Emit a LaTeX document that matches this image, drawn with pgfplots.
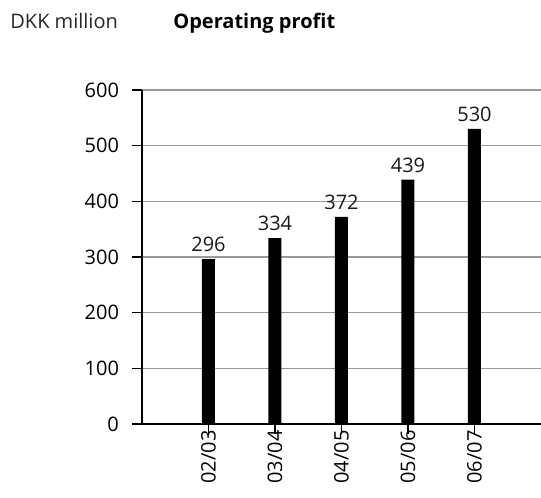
\documentclass[border=0pt]{standalone}
\usepackage{pgfplots}
\pgfplotsset{compat=1.18}
\usepackage{fontspec}
\setmainfont{Open Sans}

\begin{document}
\begin{tikzpicture}
\begin{axis}[
    at={(0pt,0pt)}, anchor=south west,
    scale only axis,
    width=199.5pt, height=167pt,
    font=\fontsize{10}{12}\selectfont,
    ybar, bar width=6.5pt,
    xmin=-1, xmax=5,
    ymin=0, ymax=600,
    enlargelimits=false,
    ytick={0,100,...,600},
    xtick={0,1,2,3,4},
    xticklabels={02/03,03/04,04/05,05/06,06/07},
    x tick label style={yshift=3pt, rotate=90, anchor=east, inner sep=1pt},
    y tick label style={xshift=-3pt},
    axis x line*=bottom, axis y line*=left,
    axis line style={-, line width=0.6pt},
    major tick style={draw=black, line width=0.6pt},
    tick align=outside, major tick length=5pt,
    xmajorgrids=false, ymajorgrids=true,
    major grid style={draw=black!40, line width=0.6pt},
    /pgf/number format/assume math mode=true,
    nodes near coords,
    nodes near coords style={font=\fontsize{10}{12}\selectfont, inner sep=1pt, yshift=2.5pt, text=black!90},
    clip=false,
]
\addplot[fill=black, draw=none] coordinates {
    (0,296) (1,334) (2,372) (3,439) (4,530)
};
\end{axis}
\node[anchor=base west, inner sep=0, font=\fontsize{10}{12}\selectfont, text=black!85] at (-66pt,197.5pt) {DKK million};
\node[anchor=base west, inner sep=0, font=\fontsize{10}{12}\selectfont\bfseries] at (15.5pt,197.5pt) {Operating profit};
\pgfresetboundingbox
\path (-71pt,-37pt) rectangle (199.5pt,212pt);
\end{tikzpicture}
\end{document}
